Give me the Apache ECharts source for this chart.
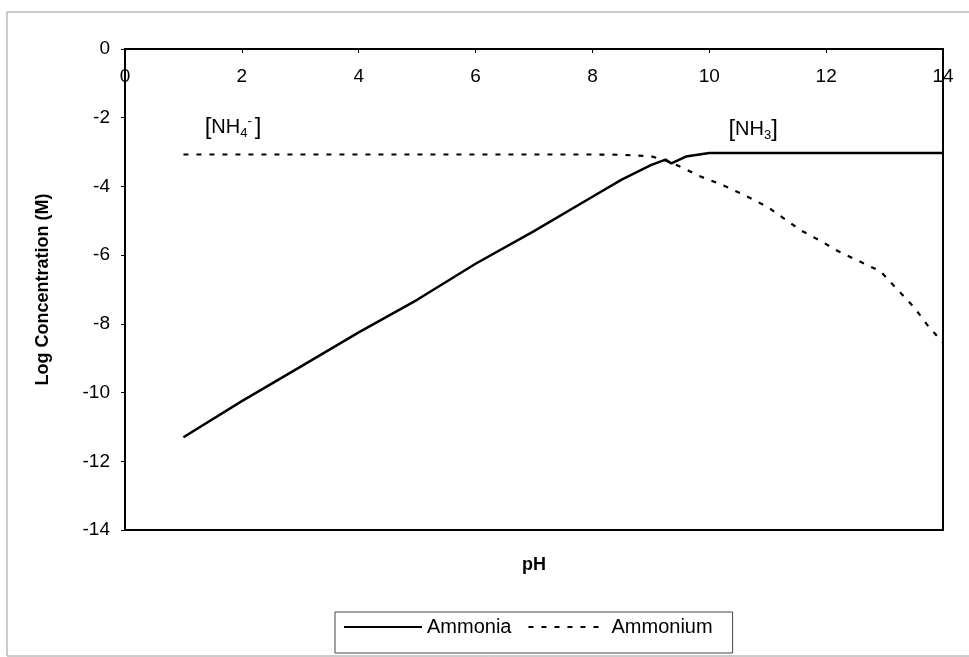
<!DOCTYPE html>
<html>
<head>
<meta charset="utf-8">
<script src="https://cdn.jsdelivr.net/npm/echarts@6/dist/echarts.min.js"></script>
<style>
  html, body { margin: 0; padding: 0; background: #fff; }
  #chart { width: 969px; height: 657px; }
</style>
</head>
<body>
<div id="chart"></div>
<script>
// values
var ammoniaPH   = [1, 2, 3, 4, 5, 6, 7, 8, 8.5, 9, 9.25, 9.35, 9.6, 10, 11, 12, 13, 14];
var ammoniaLog  = [-11.3, -10.25, -9.25, -8.25, -7.3, -6.25, -5.3, -4.3, -3.8, -3.38, -3.22, -3.33, -3.13, -3.03, -3.03, -3.03, -3.03, -3.03];
var ammoniumPH  = [1, 2, 4, 6, 8, 8.5, 9, 9.25, 9.6, 9.8, 10.2, 10.6, 11, 11.56, 11.94, 12.2, 12.57, 12.93, 13.18, 13.5, 13.75, 14];
var ammoniumLog = [-3.07, -3.07, -3.07, -3.07, -3.07, -3.08, -3.12, -3.24, -3.5, -3.68, -3.94, -4.25, -4.6, -5.27, -5.62, -5.88, -6.18, -6.47, -6.93, -7.51, -8.07, -8.55];
var xTicks = [0, 14, 2];   // min, max, interval
var yTicks = [-14, 0, 2];

function pairs(xs, ys) {
    var out = [];
    for (var i = 0; i < xs.length; i++) out.push([xs[i], ys[i]]);
    return out;
}

var chart = echarts.init(document.getElementById('chart'));
var font = 'Liberation Sans, Arial, sans-serif';

var option = {
    animation: false,
    textStyle: { fontFamily: font, color: '#000' },
    graphic: [{
        type: 'rect',
        shape: { x: 7, y: 12, width: 975, height: 644 },
        style: { fill: 'none', stroke: '#999', lineWidth: 1 },
        silent: true
    }],
    grid: {
        left: 125, right: 26, top: 49, bottom: 127,
        show: true, borderColor: '#000', borderWidth: 2
    },
    legend: {
        left: 335, top: 612,
        data: ['Ammonia', 'Ammonium'],
        borderColor: '#444', borderWidth: 1,
        padding: [5, 20, 16, 8],
        itemWidth: 78, itemHeight: 14, itemGap: 16,
        itemStyle: { opacity: 0 },
        textStyle: { fontSize: 20, color: '#000', fontFamily: font }
    },
    xAxis: [{
        type: 'value',
        position: 'top',
        min: xTicks[0], max: xTicks[1], interval: xTicks[2],
        axisLine: { lineStyle: { color: '#000', width: 2 } },
        axisTick: { inside: true, length: 4, lineStyle: { color: '#000' } },
        axisLabel: { inside: true, margin: 18, fontSize: 19, color: '#000' },
        splitLine: { show: false }
    }, {
        type: 'value',
        position: 'bottom',
        min: xTicks[0], max: xTicks[1],
        name: 'pH', nameLocation: 'middle', nameGap: 26,
        nameTextStyle: { fontSize: 18, fontWeight: 'bold', color: '#000' },
        axisLine: { show: false }, axisTick: { show: false },
        axisLabel: { show: false }, splitLine: { show: false }
    }],
    yAxis: {
        type: 'value',
        min: yTicks[0], max: yTicks[1], interval: yTicks[2],
        name: 'Log Concentration (M)', nameLocation: 'middle', nameGap: 73,
        nameTextStyle: { fontSize: 18, fontWeight: 'bold', color: '#000' },
        axisLine: { show: true, lineStyle: { color: '#000', width: 2 } },
        axisTick: { show: true, length: 4, lineStyle: { color: '#000' } },
        axisLabel: { fontSize: 19, margin: 15, color: '#000' },
        splitLine: { show: false }
    },
    series: [{
        name: 'Ammonia',
        type: 'line',
        data: pairs(ammoniaPH, ammoniaLog),
        symbol: 'none',
        lineStyle: { color: '#000', width: 2.5 },
        itemStyle: { color: '#000' },
        markPoint: {
            symbol: 'circle', symbolSize: 0,
            data: [{ coord: [10.75, -2.34] }],
            label: {
                show: true, position: 'inside',
                formatter: '{b|[}{t|NH}{s|3}{b|]}',
                rich: {
                    b: { fontSize: 24, color: '#000' },
                    t: { fontSize: 20, color: '#000' },
                    s: { fontSize: 13, color: '#000', verticalAlign: 'bottom', padding: [12, 0, 0, 0] }
                }
            }
        }
    }, {
        name: 'Ammonium',
        type: 'line',
        data: pairs(ammoniumPH, ammoniumLog),
        symbol: 'none',
        lineStyle: { color: '#000', width: 2.2, type: [5, 8] },
        itemStyle: { color: '#000' },
        markPoint: {
            symbol: 'circle', symbolSize: 0,
            data: [{ coord: [1.85, -2.28] }],
            label: {
                show: true, position: 'inside',
                formatter: '{b|[}{t|NH}{s|4}{u|-}{b|]}',
                rich: {
                    b: { fontSize: 24, color: '#000' },
                    t: { fontSize: 20, color: '#000' },
                    s: { fontSize: 13, color: '#000', verticalAlign: 'bottom', padding: [12, 0, 0, 0] },
                    u: { fontSize: 13, color: '#000', verticalAlign: 'top', padding: [0, 3, 10, 0] }
                }
            }
        }
    }]
};

chart.setOption(option);
window.addEventListener('resize', function () {
    chart.resize();
});
</script>
</body>
</html>
